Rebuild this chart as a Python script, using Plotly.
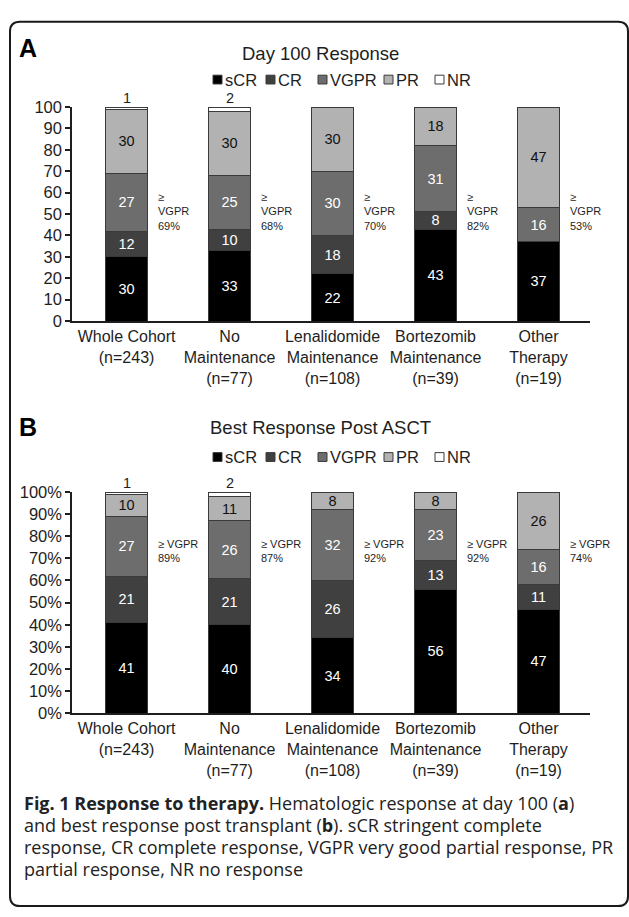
import plotly.graph_objects as go

W, H = 629, 917

# ---- data -------------------------------------------------------------
groups = [
    "Whole Cohort<br>(n=243)",
    "No<br>Maintenance<br>(n=77)",
    "Lenalidomide<br>Maintenance<br>(n=108)",
    "Bortezomib<br>Maintenance<br>(n=39)",
    "Other<br>Therapy<br>(n=19)",
]
responses = ["sCR", "CR", "VGPR", "PR", "NR"]

# Day 100 response (%)
day100_scr = [30, 33, 22, 43, 37]
day100_cr = [12, 10, 18, 8, 0]
day100_vgpr = [27, 25, 30, 31, 16]
day100_pr = [30, 30, 30, 18, 47]
day100_nr = [1, 2, 0, 0, 0]

# Best response post ASCT (%)
best_scr = [41, 40, 34, 56, 47]
best_cr = [21, 21, 26, 13, 11]
best_vgpr = [27, 26, 32, 23, 16]
best_pr = [10, 11, 8, 8, 26]
best_nr = [1, 2, 0, 0, 0]

yticks_a = [0, 10, 20, 30, 40, 50, 60, 70, 80, 90, 100]
yticks_b = [0, 10, 20, 30, 40, 50, 60, 70, 80, 90, 100]

# ---- styling ------------------------------------------------------------
fills = ["#000000", "#404040", "#6d6d6d", "#b2b2b2", "#ffffff"]
text_colors = ["#ffffff", "#ffffff", "#ffffff", "#111111", "#111111"]
edge = "#3a3a3a"
ink = "#1e1e1e"
SANS = "Liberation Sans, Arial, sans-serif"
CAP = "Open Sans, sans-serif"


def px(x):
    return x / W


def py(y):
    return 1 - y / H


fig = go.Figure()

panels = [
    ("x", "y", [day100_scr, day100_cr, day100_vgpr, day100_pr, day100_nr], "three"),
    ("x2", "y2", [best_scr, best_cr, best_vgpr, best_pr, best_nr], "two"),
]

xpos = list(range(len(groups)))

for xa, ya, series, style in panels:
    for k, (name, vals) in enumerate(zip(responses, series)):
        show_text = name != "NR"
        fig.add_trace(
            go.Bar(
                x=xpos,
                y=vals,
                name=name,
                xaxis=xa,
                yaxis=ya,
                width=0.4,
                marker=dict(color=fills[k], line=dict(color=edge, width=1)),
                text=[str(v) if (v and show_text) else "" for v in vals],
                textposition="inside",
                insidetextanchor="middle",
                textangle=0,
                textfont=dict(family=SANS, size=14.5, color=text_colors[k]),
                showlegend=False,
                hoverinfo="skip",
            )
        )

annotations = []
shapes = []

for xa, ya, series, style in panels:
    scr, cr, vgpr, pr, nr = series
    for i in xpos:
        total = scr[i] + cr[i] + vgpr[i] + pr[i] + nr[i]
        if nr[i]:
            annotations.append(dict(
                x=i, y=total, xref=xa, yref=ya, text=str(nr[i]),
                showarrow=False, yanchor="bottom", yshift=-1,
                font=dict(family=SANS, size=14.5, color=ink),
            ))
        good = scr[i] + cr[i] + vgpr[i]
        if style == "three":
            txt = f"≥<br>VGPR<br>{good}%"
            yy = 51
        else:
            txt = f"≥ VGPR<br>{good}%"
            yy = 73.5
        annotations.append(dict(
            x=i + 0.29, y=yy, xref=xa, yref=ya, text=txt,
            showarrow=False, xanchor="left", yanchor="middle", align="left",
            font=dict(family=SANS, size=11, color=ink),
        ))

# panel letters and titles
for letter, ly, title, ty in [("A", 40, "Day 100 Response", 45), ("B", 426, "Best Response Post ASCT", 427)]:
    annotations.append(dict(
        x=px(17), y=py(ly), xref="paper", yref="paper", text=f"<b>{letter}</b>",
        showarrow=False, xanchor="left", yanchor="middle",
        font=dict(family=SANS, size=25, color="#000000"),
    ))
    annotations.append(dict(
        x=px(320), y=py(ty), xref="paper", yref="paper", text=title,
        showarrow=False, xanchor="center", yanchor="middle",
        font=dict(family=SANS, size=18.5, color=ink),
    ))

# legends (one row per panel)
leg_sq = [213, 266, 318, 384, 435]
for ly in (72, 457):
    for k, name in enumerate(responses):
        x0 = leg_sq[k]
        shapes.append(dict(
            type="rect", xref="paper", yref="paper",
            x0=px(x0), x1=px(x0 + 9), y0=py(ly + 4.5), y1=py(ly - 4.5),
            fillcolor=fills[k], line=dict(color=edge, width=1),
        ))
        annotations.append(dict(
            x=px(x0 + 10), y=py(ly), xref="paper", yref="paper", text=name,
            showarrow=False, xanchor="left", yanchor="middle",
            font=dict(family=SANS, size=16.5, color=ink),
        ))

# caption
cap_lines = [
    "<b>Fig. 1 Response to therapy.</b> Hematologic response at day 100 (<b>a</b>)",
    "and best response post transplant (<b>b</b>). sCR stringent complete",
    "response, CR complete response, VGPR very good partial response, PR",
    "partial response, NR no response",
]
for j, line in enumerate(cap_lines):
    annotations.append(dict(
        x=px(22), y=py(810 + 22.5 * j), xref="paper", yref="paper", text=line,
        showarrow=False, xanchor="left", yanchor="middle",
        font=dict(family=CAP, size=18, color="#222222"),
    ))

# rounded frame around the whole figure
L, T, R, B, r = 10, 13, 628, 915, 10
frame = (
    f"M {px(L + r)},{py(T)} L {px(R - r)},{py(T)} Q {px(R)},{py(T)} {px(R)},{py(T + r)} "
    f"L {px(R)},{py(B - r)} Q {px(R)},{py(B)} {px(R - r)},{py(B)} "
    f"L {px(L + r)},{py(B)} Q {px(L)},{py(B)} {px(L)},{py(B - r)} "
    f"L {px(L)},{py(T + r)} Q {px(L)},{py(T)} {px(L + r)},{py(T)} Z"
)
shapes.append(dict(type="path", xref="paper", yref="paper", path=frame,
                   line=dict(color="#1a1a1a", width=2), fillcolor="rgba(0,0,0,0)"))

xdom = [px(72), px(590)]
common_x = dict(
    domain=xdom, range=[-0.53, 4.5], showline=True, linecolor=ink, linewidth=1.5,
    ticks="", tickvals=xpos, ticktext=groups, showgrid=False, zeroline=False,
    tickfont=dict(family=SANS, size=16, color=ink), fixedrange=True,
)
common_y = dict(
    range=[0, 100], showline=True, linecolor=ink, linewidth=1.5, ticks="outside",
    ticklen=5, tickwidth=1.5, tickcolor=ink, showgrid=False, zeroline=False,
    tickfont=dict(family=SANS, size=16.5, color=ink), fixedrange=True,
)

fig.update_layout(
    width=W, height=H,
    margin=dict(l=0, r=0, t=0, b=0),
    paper_bgcolor="white", plot_bgcolor="white",
    barmode="stack", bargap=0.6,
    uniformtext=dict(minsize=14.5, mode="show"),
    xaxis=dict(anchor="y", **common_x),
    yaxis=dict(anchor="x", domain=[py(318.3), py(100)], tickvals=yticks_a, **common_y),
    xaxis2=dict(anchor="y2", **common_x),
    yaxis2=dict(anchor="x2", domain=[py(718.3), py(492.7)], tickvals=yticks_b,
                ticktext=[f"{v}%" for v in yticks_b], **common_y),
    annotations=annotations,
    shapes=shapes,
    showlegend=False,
)

fig.write_html("out.html")
